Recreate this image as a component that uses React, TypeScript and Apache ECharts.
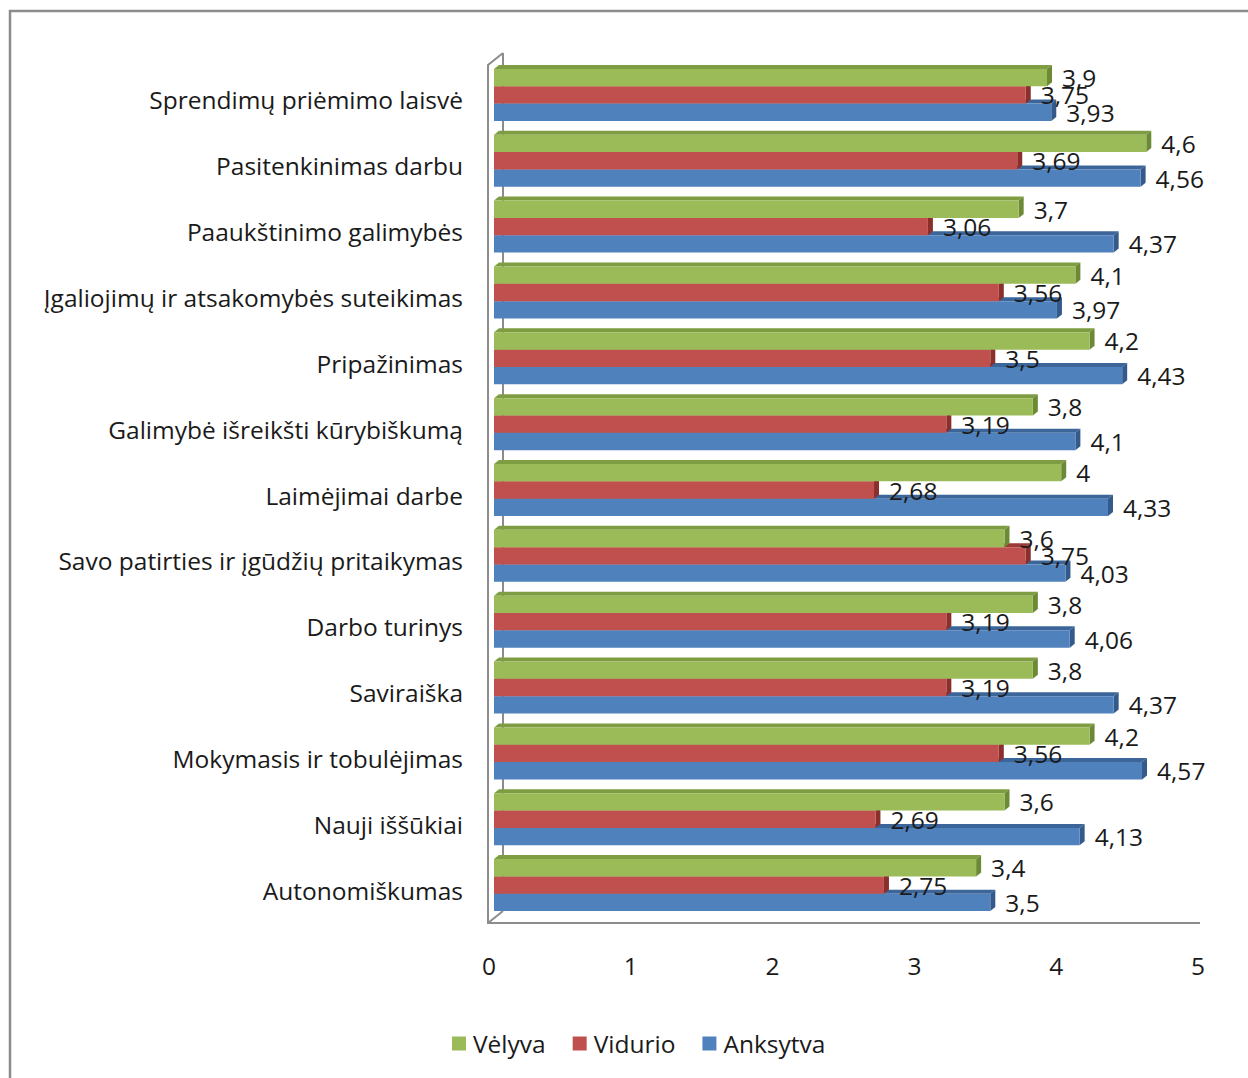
import React, { useEffect, useRef } from "react";
import * as echarts from "echarts";

const categories = [
  "Sprendimų priėmimo laisvė",
  "Pasitenkinimas darbu",
  "Paaukštinimo galimybės",
  "Įgaliojimų ir atsakomybės suteikimas",
  "Pripažinimas",
  "Galimybė išreikšti kūrybiškumą",
  "Laimėjimai darbe",
  "Savo patirties ir įgūdžių pritaikymas",
  "Darbo turinys",
  "Saviraiška",
  "Mokymasis ir tobulėjimas",
  "Nauji iššūkiai",
  "Autonomiškumas",
];
const seriesNames = ["Vėlyva", "Vidurio", "Anksytva"];
const velyva = [3.9, 4.6, 3.7, 4.1, 4.2, 3.8, 4, 3.6, 3.8, 3.8, 4.2, 3.6, 3.4];
const vidurio = [3.75, 3.69, 3.06, 3.56, 3.5, 3.19, 2.68, 3.75, 3.19, 3.19, 3.56, 2.69, 2.75];
const ankstyva = [3.93, 4.56, 4.37, 3.97, 4.43, 4.1, 4.33, 4.03, 4.06, 4.37, 4.57, 4.13, 3.5];
const xMin = 0;
const xMax = 5;
const xInterval = 1;

const values = [velyva, vidurio, ankstyva];
const frontColors = ["#9BBB59", "#C0504D", "#4F81BD"];
const topColors = ["#7E9D43", "#9C3A37", "#3C6699"];
const sideColors = ["#6C8935", "#8B2F2C", "#335A8A"];

const FONT = "'Open Sans', sans-serif";
const FS = 24.5;
const GRID_LEFT = 494;
const GRID_RIGHT = 45;
const GRID_TOP = 62;
const GRID_BOTTOM = 160;
const CAT_GAP = 0.21;
const DX = 5;
const DY = 4;
const fmt = (v: number) => String(v).replace(".", ",");

export default function App() {
  const ref = useRef<HTMLDivElement>(null);
  useEffect(() => {
    document.body.style.margin = "0";
    if (!ref.current) return;
    const chart = echarts.init(ref.current, undefined, { renderer: "svg" });
    const W = 1248;
    const H = 1078;
    const plotBottom = H - GRID_BOTTOM;
    const plotRight = W - GRID_RIGHT;
    const frontX = GRID_LEFT - 6;
    const floorY = plotBottom + 5;
    const wallDX = 15;
    const wallDY = 12;

    const series: any[] = [];
    values.forEach((vals, s) => {
      series.push({
        name: "_cap" + s,
        type: "custom",
        z: 2 + (2 - s) * 2,
        silent: true,
        encode: { x: 0, y: 1 },
        data: vals.map((v, i) => [v, i]),
        renderItem: (params: any, api: any) => {
          const v = api.value(0);
          const idx = api.value(1);
          const end = api.coord([v, idx]);
          const start = api.coord([0, idx]);
          const band = api.size([0, 1])[1];
          const bw = (band * (1 - CAT_GAP)) / 3;
          const yTop = end[1] - 1.5 * bw + s * bw;
          const yBot = yTop + bw;
          return {
            type: "group",
            children: [
              {
                type: "polygon",
                shape: {
                  points: [
                    [start[0], yTop],
                    [start[0] + DX, yTop - DY],
                    [end[0] + DX, yTop - DY],
                    [end[0], yTop],
                  ],
                },
                style: { fill: topColors[s] },
              },
              {
                type: "polygon",
                shape: {
                  points: [
                    [end[0], yTop],
                    [end[0] + DX, yTop - DY],
                    [end[0] + DX, yBot - DY],
                    [end[0], yBot],
                  ],
                },
                style: { fill: sideColors[s] },
              },
            ],
          };
        },
      });
    });
    values.forEach((vals, s) => {
      series.push({
        name: seriesNames[s],
        type: "bar",
        z: 3 + (2 - s) * 2,
        barGap: "0%",
        barCategoryGap: CAT_GAP * 100 + "%",
        data: vals,
        itemStyle: { color: frontColors[s] },
        label: {
          show: true,
          position: "right",
          distance: 15,
          formatter: (p: any) => fmt(p.value),
          fontFamily: FONT,
          fontSize: FS,
          color: "#1a1a1a",
        },
      });
    });

    const option: any = {
      animation: false,
      backgroundColor: "#ffffff",
      color: frontColors,
      grid: { left: GRID_LEFT, right: GRID_RIGHT, top: GRID_TOP, bottom: GRID_BOTTOM, containLabel: false },
      xAxis: {
        type: "value",
        min: xMin,
        max: xMax,
        interval: xInterval,
        axisLine: { show: false },
        axisTick: { show: false },
        splitLine: { show: false },
        axisLabel: {
          margin: 35,
          fontFamily: FONT,
          fontSize: FS,
          color: "#1a1a1a",
          padding: [0, 10, 0, 0],
        },
      },
      yAxis: {
        type: "category",
        inverse: true,
        data: categories,
        axisLine: { show: false },
        axisTick: { show: false },
        splitLine: { show: false },
        axisLabel: {
          margin: 31,
          formatter: (v: string) => "{t|" + v + "}",
          rich: {
            t: {
              fontFamily: FONT,
              fontSize: FS,
              color: "#1a1a1a",
              padding: [10, 0, 0, 0],
            },
          },
        },
      },
      legend: {
        data: seriesNames,
        left: 447,
        top: 1026,
        icon: "rect",
        itemWidth: 14,
        itemHeight: 14,
        itemGap: 27,
        textStyle: { fontFamily: FONT, fontSize: FS, color: "#1a1a1a", padding: [0, 0, 0, 2] },
      },
      graphic: [
        {
          type: "rect",
          z: 100,
          silent: true,
          shape: { x: 10, y: 11, width: W + 20, height: H + 20 },
          style: { fill: "none", stroke: "#8c8c8c", lineWidth: 2.5 },
        },
        {
          type: "polyline",
          z: 0,
          silent: true,
          shape: {
            points: [
              [frontX + wallDX, floorY - wallDY],
              [frontX + wallDX, GRID_TOP - 9],
            ],
          },
          style: { stroke: "#8c8c8c", lineWidth: 2, fill: "none" },
        },
        {
          type: "polyline",
          z: 100,
          silent: true,
          shape: {
            points: [
              [frontX + wallDX, GRID_TOP - 9],
              [frontX, GRID_TOP + 3],
              [frontX, floorY],
              [plotRight - 3, floorY],
            ],
          },
          style: { stroke: "#8c8c8c", lineWidth: 2, fill: "none" },
        },
        {
          type: "line",
          z: 100,
          silent: true,
          shape: { x1: frontX, y1: floorY, x2: frontX + wallDX, y2: floorY - wallDY },
          style: { stroke: "#8c8c8c", lineWidth: 2 },
        },
      ],
      series,
    };
    chart.setOption(option);
    return () => chart.dispose();
  }, []);
  return <div ref={ref} style={{ width: 1248, height: 1078 }} />;
}
